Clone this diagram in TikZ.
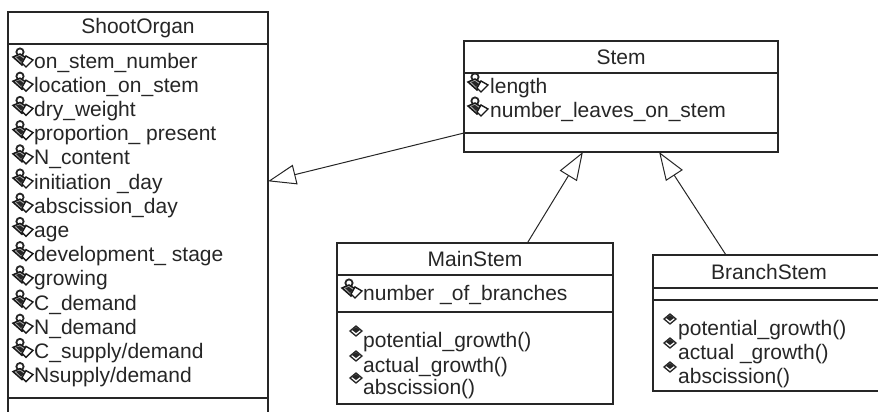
\documentclass[tikz,border=0pt]{standalone}
\usepackage{fontspec}
\setmainfont{Liberation Sans}
\usetikzlibrary{arrows.meta}
\tikzset{
  compart/.style={draw=black!85,line width=1.2pt,fill=white,inner sep=0pt,outer sep=0pt},
  classname/.style={compart,font=\fontsize{21}{21}\selectfont,text=black!85},
  member/.style={anchor=base west,inner sep=0pt,font=\fontsize{21}{21}\selectfont,text=black!85},
  inherit/.style={draw=black!85,line width=1pt,-{Triangle[open,fill=white,length=28pt,width=20pt]}},
  attricon/.pic={
    \draw[black!85,line width=1.8pt] (-3,-6) circle (3.6);
    \fill[black!30,draw=black!90,line width=1.5pt] (-10,-1) -- (-3,-4) -- (5,1) -- (-1,7) -- cycle;
    \fill[black!85] (-7,-1) -- (-3,-2) -- (1,1) -- (-2,4) -- cycle;
    \fill[white,draw=black!90,line width=1.4pt] (3,-2) -- (10,2) -- (3,9) -- (-1,5) -- cycle;
  },
  opicon/.pic={
    \fill[white,draw=black!85,line width=1.3pt] (-6,0) -- (0,-5) -- (6,0) -- (0,5) -- cycle;
    \fill[black!85] (-4,-1) -- (0,-4) -- (4,-1) -- (0,2) -- cycle;
  }
}
\begin{document}
\begin{tikzpicture}[x=1pt,y=-1pt]
  \useasboundingbox (0,0) rectangle (878,412);

  % ShootOrgan
  \node[classname,minimum width=260pt,minimum height=32pt] (shootname) at (138,28) {ShootOrgan};
  \node[compart,minimum width=260pt,minimum height=354pt] (shootattr) at (138,221) {};
  \node[compart,minimum width=260pt,minimum height=30pt] (shootops) at (138,413) {};
  \foreach \label [count=\i from 0] in {on\_stem\_number,location\_on\_stem,dry\_weight,
      proportion\_ present,N\_content,initiation \_day,abscission\_day,age,
      development\_ stage,growing,C\_demand,N\_demand,C\_supply/demand,Nsupply/demand} {
    \pic at (23,{58+24.2*\i}) {attricon};
    \node[member] (shootrow\i) at (34,{68+24.2*\i}) {\label};
  }

  % Stem
  \node[classname,minimum width=314pt,minimum height=32pt] (stemname) at (621,57) {Stem};
  \node[compart,minimum width=314pt,minimum height=60pt] (stemattr) at (621,103) {};
  \node[compart,minimum width=314pt,minimum height=19pt] (stemops) at (621,142.5) {};
  \pic at (478,83) {attricon};
  \node[member] (stemrow0) at (490,93) {length};
  \pic at (478,107) {attricon};
  \node[member] (stemrow1) at (490,117.5) {number\_leaves\_on\_stem};

  % MainStem
  \node[classname,minimum width=276pt,minimum height=32pt] (mainname) at (475,259) {MainStem};
  \node[compart,minimum width=276pt,minimum height=37pt] (mainattr) at (475,293.5) {};
  \node[compart,minimum width=276pt,minimum height=92pt] (mainops) at (475,358) {};
  \pic at (352,289) {attricon};
  \node[member] (mainrow0) at (363,300) {number \_of\_branches};
  \foreach \label/\ypos [count=\i from 0] in {potential\_growth()/347,actual\_growth()/372,abscission()/394} {
    \pic at (356,{\ypos-16}) {opicon};
    \node[member] (mainop\i) at (363,\ypos) {\label};
  }

  % BranchStem
  \node[classname,minimum width=232pt,minimum height=33pt] (branchname) at (769,271.5) {BranchStem};
  \node[compart,minimum width=232pt,minimum height=12pt] (branchattr) at (769,294) {};
  \node[compart,minimum width=232pt,minimum height=91pt] (branchops) at (769,345.5) {};
  \foreach \label/\ypos [count=\i from 0] in {potential\_growth()/335,actual \_growth()/359,abscission()/383} {
    \pic at (670,{\ypos-16}) {opicon};
    \node[member] (branchop\i) at (678,\ypos) {\label};
  }

  \draw[inherit] (stemattr.south west) -- (shootattr.17.5);
  \draw[inherit] (mainname.17.1) -- (stemops.194.8);
  \draw[inherit] (branchname.159.9) -- (stemops.-14);
\end{tikzpicture}
\end{document}
